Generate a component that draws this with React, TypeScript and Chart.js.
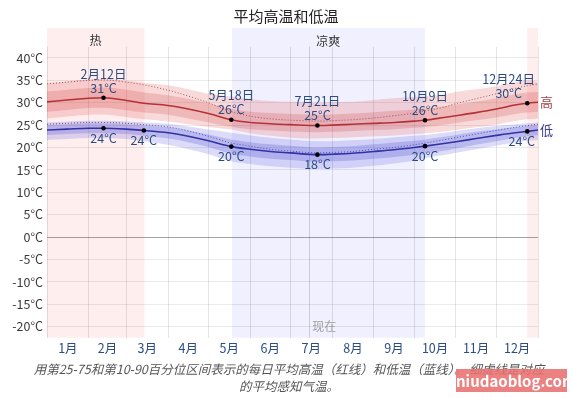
import React, { useEffect, useRef } from "react";
import { Chart, registerables } from "chart.js";

Chart.register(...registerables);

const FONT = '"Noto Sans CJK SC", "Noto Sans", sans-serif';

const title = "平均高温和低温";
const captionLines = [
  "用第25-75和第10-90百分位区间表示的每日平均高温（红线）和低温（蓝线）。 细虚线是对应",
  "的平均感知气温。",
];
const monthLabels = ["1月", "2月", "3月", "4月", "5月", "6月", "7月", "8月", "9月", "10月", "11月", "12月"];
const monthStarts = [0, 31, 59, 90, 120, 151, 181, 212, 243, 273, 304, 334, 365];
const yTicks = [-20, -15, -10, -5, 0, 5, 10, 15, 20, 25, 30, 35, 40];

// day of year
const days = [0, 15, 31, 42, 59, 72, 90, 105, 120, 137, 151, 166, 181, 201, 212, 227, 243, 258, 273, 281, 295, 304, 319, 334, 348, 357, 365];

const high = [30.2, 30.6, 31.0, 31.1, 30.5, 29.9, 29.4, 28.6, 27.6, 26.2, 25.6, 25.3, 25.1, 24.9, 25.0, 25.2, 25.4, 25.6, 25.9, 26.1, 26.7, 27.1, 27.8, 28.6, 29.5, 29.9, 30.1];
const highP90 = [34.4, 34.8, 35.2, 35.3, 34.9, 34.4, 33.9, 33.0, 32.0, 31.4, 30.8, 30.4, 30.2, 30.0, 30.1, 30.2, 30.6, 31.0, 31.3, 31.4, 31.9, 32.4, 33.0, 33.7, 34.6, 35.0, 34.5];
const highP75 = [32.5, 32.9, 33.3, 33.4, 32.9, 32.3, 31.7, 30.9, 29.9, 28.6, 28.0, 27.7, 27.5, 27.3, 27.4, 27.6, 27.9, 28.2, 28.5, 28.7, 29.2, 29.6, 30.3, 31.0, 31.9, 32.3, 32.4];
const highP25 = [28.0, 28.4, 28.8, 28.9, 28.3, 27.8, 27.3, 26.5, 25.6, 24.6, 24.1, 23.8, 23.6, 23.4, 23.5, 23.7, 23.9, 24.1, 24.4, 24.6, 25.1, 25.5, 26.1, 26.7, 27.5, 27.8, 28.0];
const highP10 = [26.5, 26.9, 27.3, 27.4, 26.8, 26.3, 25.8, 25.2, 24.6, 24.0, 23.2, 22.6, 22.2, 22.0, 22.1, 22.3, 22.5, 22.7, 23.0, 23.2, 23.6, 23.9, 24.5, 25.1, 25.9, 26.3, 26.5];
const highFeels = [34.2, 34.6, 35.0, 35.1, 34.6, 34.0, 32.8, 31.5, 30.0, 28.0, 27.0, 26.4, 26.1, 25.9, 26.0, 26.2, 26.6, 27.1, 27.7, 28.2, 29.0, 29.8, 30.9, 32.0, 33.2, 33.8, 34.2];

const low = [23.9, 24.1, 24.3, 24.3, 24.1, 23.8, 23.3, 22.5, 21.5, 20.2, 19.6, 19.1, 18.8, 18.4, 18.5, 18.7, 19.1, 19.5, 20.0, 20.3, 20.9, 21.3, 22.0, 22.7, 23.3, 23.6, 23.9];
const lowP90 = [25.6, 25.8, 26.0, 26.0, 25.8, 25.6, 25.3, 24.7, 24.0, 23.3, 22.7, 22.2, 21.8, 21.4, 21.4, 21.6, 21.9, 22.3, 22.6, 22.8, 23.3, 23.7, 24.3, 24.8, 25.2, 25.4, 25.6];
const lowP75 = [25.0, 25.2, 25.4, 25.4, 25.2, 24.9, 24.5, 23.8, 22.9, 21.8, 21.2, 20.7, 20.4, 20.0, 20.1, 20.3, 20.7, 21.1, 21.5, 21.8, 22.4, 22.8, 23.5, 24.0, 24.5, 24.8, 25.0];
const lowP25 = [22.8, 23.0, 23.2, 23.2, 23.0, 22.6, 22.0, 21.2, 20.1, 18.6, 18.0, 17.5, 17.2, 16.8, 16.9, 17.1, 17.5, 17.9, 18.4, 18.7, 19.3, 19.8, 20.6, 21.4, 22.1, 22.5, 22.8];
const lowP10 = [21.7, 21.9, 22.1, 22.1, 21.9, 21.4, 20.6, 19.6, 18.5, 16.9, 16.3, 15.8, 15.5, 15.2, 15.3, 15.5, 15.9, 16.4, 17.1, 17.6, 18.3, 18.8, 19.6, 20.4, 21.1, 21.5, 21.7];
const lowFeels = [25.2, 25.4, 25.6, 25.6, 25.4, 25.1, 24.6, 23.7, 22.5, 21.0, 20.3, 19.6, 19.2, 18.8, 18.9, 19.1, 19.6, 20.0, 20.6, 21.0, 21.7, 22.2, 23.0, 23.8, 24.5, 24.9, 25.2];

const highMarkDays = [42, 137, 201, 281, 357];
const highMarkDates = ["2月12日", "5月18日", "7月21日", "10月9日", "12月24日"];
const lowMarkDays = [42, 72, 137, 201, 281, 357];

const hotRanges = [[0, 72.5], [357, 365]];
const coolRanges = [[137.5, 281]];
const hotLabel = { text: "热", day: 36 };
const coolLabel = { text: "凉爽", day: 209 };
const nowDay = 195;
const nowLabel = "现在";

const pts = (vals: number[]) => days.map((d, i) => ({ x: d, y: vals[i] }));
const marks = (ds: number[], vals: number[]) => ds.map((d) => ({ x: d, y: vals[days.indexOf(d)] }));

const monthMids = monthStarts.slice(0, 12).map((s, i) => (s + monthStarts[i + 1]) / 2);

const decor = {
  id: "decor",
  beforeDraw(chart: any) {
    const { ctx, chartArea: a, scales } = chart;
    const x = scales.x;
    const top = 28;
    ctx.save();
    ctx.fillStyle = "rgba(240,40,40,0.08)";
    for (const [s, e] of hotRanges) {
      const x0 = x.getPixelForValue(s), x1 = x.getPixelForValue(e);
      ctx.fillRect(x0, top, x1 - x0, a.bottom - top);
    }
    ctx.fillStyle = "rgba(50,50,240,0.075)";
    for (const [s, e] of coolRanges) {
      const x0 = x.getPixelForValue(s), x1 = x.getPixelForValue(e);
      ctx.fillRect(x0, top, x1 - x0, a.bottom - top);
    }
    ctx.restore();
  },
  beforeDatasetsDraw(chart: any) {
    const { ctx, chartArea: a, scales } = chart;
    const px = Math.round(scales.x.getPixelForValue(nowDay)) + 0.5;
    ctx.save();
    ctx.strokeStyle = "rgba(0,0,0,0.16)";
    ctx.lineWidth = 1;
    ctx.beginPath();
    ctx.moveTo(px, a.top);
    ctx.lineTo(px, a.bottom);
    ctx.stroke();
    ctx.restore();
  },
  afterDatasetsDraw(chart: any) {
    const { ctx, chartArea: a, scales } = chart;
    const x = scales.x, y = scales.y;
    ctx.save();
    ctx.textAlign = "center";
    ctx.textBaseline = "middle";
    ctx.font = `12.5px ${FONT}`;
    ctx.fillStyle = "#2c4c80";
    const limit = a.right - 3;
    highMarkDays.forEach((d, i) => {
      const v = high[days.indexOf(d)];
      const px = x.getPixelForValue(d), py = y.getPixelForValue(v);
      const t2 = Math.round(v) + "°C";
      const w = Math.max(ctx.measureText(highMarkDates[i]).width, ctx.measureText(t2).width);
      const shift = Math.min(0, limit - (px + w / 2));
      ctx.fillText(highMarkDates[i], px + shift, py - 24);
      ctx.fillText(t2, px + shift, py - 10);
    });
    lowMarkDays.forEach((d) => {
      const v = low[days.indexOf(d)];
      const px = x.getPixelForValue(d), py = y.getPixelForValue(v);
      const t = Math.round(v) + "°C";
      const w = ctx.measureText(t).width;
      const shift = Math.min(0, limit - (px + w / 2));
      ctx.fillText(t, px + shift, py + 10);
    });
    // series end labels
    ctx.textAlign = "left";
    ctx.font = `13px ${FONT}`;
    ctx.fillStyle = "#a04545";
    ctx.fillText("高", a.right + 2, y.getPixelForValue(high[high.length - 1]));
    ctx.fillStyle = "#3c3c90";
    ctx.fillText("低", a.right + 2, y.getPixelForValue(low[low.length - 1]));
    // season labels
    ctx.textAlign = "center";
    ctx.font = `12px ${FONT}`;
    ctx.fillStyle = "#333";
    ctx.fillText(hotLabel.text, x.getPixelForValue(hotLabel.day), 40);
    ctx.fillText(coolLabel.text, x.getPixelForValue(coolLabel.day), 41);
    // now label
    ctx.textAlign = "left";
    ctx.fillStyle = "#a0a0a0";
    ctx.fillText(nowLabel, x.getPixelForValue(nowDay) + 3, a.bottom - 11);
    // title
    ctx.textAlign = "center";
    ctx.font = `15px ${FONT}`;
    ctx.fillStyle = "#222";
    ctx.fillText(title, 286, 16);
    // caption
    ctx.font = `italic 12.5px ${FONT}`;
    ctx.fillStyle = "#555";
    ctx.fillText(captionLines[0], 289, 369);
    ctx.fillText(captionLines[1], 289, 386);
    ctx.restore();
  },
};

export default function App() {
  const ref = useRef<HTMLCanvasElement>(null);
  useEffect(() => {
    if (!ref.current) return;
    const band = (data: number[], color: string, target: number | false, order: number) => ({
      data: pts(data),
      borderWidth: 0,
      pointRadius: 0,
      backgroundColor: color,
      fill: target === false ? false : { target },
      order,
    });
    const chart = new Chart(ref.current, {
      type: "line",
      data: {
        datasets: [
          band(highP90, "transparent", false, 5) as any,
          band(highP10, "rgba(225,70,70,0.2)", 0, 5),
          band(highP75, "transparent", false, 4),
          band(highP25, "rgba(200,50,50,0.2)", 2, 4),
          band(lowP90, "transparent", false, 5),
          band(lowP10, "rgba(80,80,225,0.2)", 4, 5),
          band(lowP75, "transparent", false, 4),
          band(lowP25, "rgba(60,60,200,0.22)", 6, 4),
          {
            data: pts(highFeels),
            borderColor: "rgba(160,60,60,0.85)",
            borderWidth: 1,
            borderDash: [1, 2],
            pointRadius: 0,
            fill: false,
            order: 3,
          },
          {
            data: pts(lowFeels),
            borderColor: "rgba(60,60,160,0.85)",
            borderWidth: 1,
            borderDash: [1, 2],
            pointRadius: 0,
            fill: false,
            order: 3,
          },
          {
            data: pts(high),
            borderColor: "rgb(180,50,55)",
            borderWidth: 1.6,
            pointRadius: 0,
            fill: false,
            order: 2,
          },
          {
            data: pts(low),
            borderColor: "rgb(50,50,165)",
            borderWidth: 1.6,
            pointRadius: 0,
            fill: false,
            order: 2,
          },
          {
            data: marks(highMarkDays, high),
            showLine: false,
            pointRadius: 2.3,
            pointBackgroundColor: "#000",
            pointBorderWidth: 0,
            order: 1,
          },
          {
            data: marks(lowMarkDays, low),
            showLine: false,
            pointRadius: 2.3,
            pointBackgroundColor: "#000",
            pointBorderWidth: 0,
            order: 1,
          },
        ],
      },
      options: {
        animation: false,
        responsive: false,
        devicePixelRatio: 1,
        events: [],
        elements: { line: { cubicInterpolationMode: "monotone" } },
        layout: { padding: { top: 46.8, right: 35, bottom: 38.3, left: 0 } },
        plugins: {
          legend: { display: false },
          tooltip: { enabled: false },
          title: { display: false },
        },
        scales: {
          x: {
            type: "linear",
            min: 0,
            max: 365,
            border: { display: false },
            afterBuildTicks: (s: any) => {
              const arr = [...monthStarts, ...monthMids].sort((p, q) => p - q);
              s.ticks = arr.map((v) => ({ value: v }));
            },
            afterFit: (s: any) => {
              s.height = 22;
            },
            grid: {
              drawTicks: false,
              color: (c: any) =>
                monthMids.includes(c.tick?.value) ? "transparent" : "rgba(0,0,0,0.1)",
            },
            ticks: {
              autoSkip: false,
              maxRotation: 0,
              padding: 3,
              color: "#2c4c85",
              font: { family: FONT, size: 12.5 },
              callback: (v: any) => {
                const i = monthMids.indexOf(Number(v));
                return i >= 0 ? monthLabels[i] : "";
              },
            },
          },
          y: {
            type: "linear",
            min: -22.5,
            max: 42.5,
            border: { display: false },
            afterBuildTicks: (s: any) => {
              s.ticks = yTicks.map((v) => ({ value: v }));
            },
            afterFit: (s: any) => {
              s.width = 47;
            },
            grid: {
              drawTicks: false,
              color: (c: any) => (c.tick?.value === 0 ? "rgba(0,0,0,0.35)" : "rgba(0,0,0,0.08)"),
            },
            ticks: {
              padding: 4,
              color: "#3a3a3a",
              font: { family: FONT, size: 12.5 },
              callback: (v: any) => v + "°C",
            },
          },
        },
      },
      plugins: [decor],
    } as any);
    return () => chart.destroy();
  }, []);

  return (
    <div style={{ position: "fixed", left: 0, top: 0, width: 573, height: 398, background: "#fff" }}>
      <canvas ref={ref} width={573} height={398} style={{ display: "block", width: 573, height: 398 }} />
      <div
        style={{
          position: "absolute",
          left: 456,
          top: 369,
          width: 111,
          height: 23,
          background: "rgba(232,112,112,0.88)",
          color: "#fff",
          fontFamily: FONT,
          fontWeight: 700,
          fontSize: 15,
          lineHeight: "23px",
          textAlign: "center",
        }}
      >
        niudaoblog.com
      </div>
    </div>
  );
}
